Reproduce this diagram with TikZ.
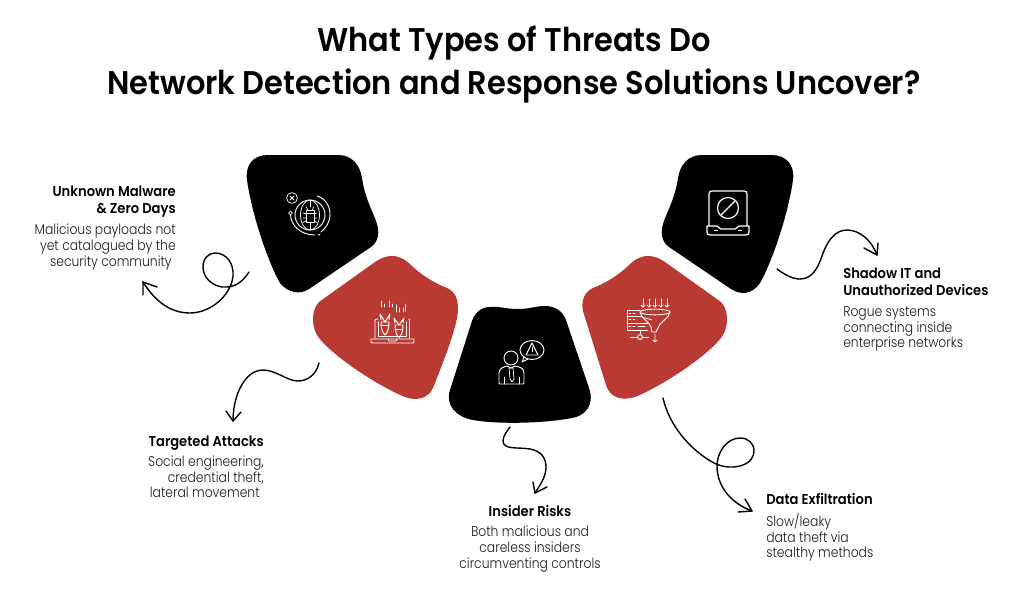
\documentclass[tikz,border=0pt]{standalone}
\usepackage{fontspec}
\setmainfont{Poppins}
\newfontfamily\titlefont[FakeStretch=0.928,BoldFont={Poppins SemiBold}]{Poppins}
\newfontfamily\headfont[FakeStretch=0.92]{Poppins SemiBold}
\newfontfamily\bodyfont[FakeStretch=0.875]{Poppins Light}
\definecolor{brickred}{HTML}{B93A32}
\definecolor{inktext}{HTML}{1A1A1A}
\tikzset{
  blobblack/.style={fill=black,draw=none},
  blobred/.style={fill=brickred,draw=none},
  icon/.style={draw=white,line width=0.7pt,line cap=round,line join=round,fill=none},
  iconthin/.style={draw=white,line width=0.55pt,line cap=round,line join=round,fill=none},
  iconbold/.style={draw=white,line width=0.9pt,line join=round,fill=none},
  squiggle/.style={draw=black,line width=1.05pt,line cap=round,line join=round,fill=none},
  titletext/.style={inner sep=0pt,font=\titlefont\bfseries\fontsize{24.6pt}{32pt}\selectfont,align=center,text=black},
  headtext/.style={inner sep=0pt,font=\headfont\fontsize{10.7pt}{12.4pt}\selectfont,text=black},
  bodytext/.style={inner sep=0pt,font=\bodyfont\fontsize{10.6pt}{11.75pt}\selectfont,text=inktext},
}
\begin{document}
\begin{tikzpicture}[x=0.75pt,y=-0.75pt]
\useasboundingbox (0,0) rectangle (1024,601);
\fill[white] (0,0) rectangle (1024,601);

% title
\node[titletext,anchor=center] (title) at (514,64.5) {What Types of Threats Do\\Network Detection and Response Solutions Uncover?};

% blobs
\path[blobblack] (268,155) -- (338,155) .. controls (352,155) and (360,165) .. (362,178)
  .. controls (365,198) and (372,210) .. (376,221) .. controls (380,232) and (379,241) .. (371,247)
  -- (309,289) .. controls (300,295) and (288,293) .. (280,283)
  .. controls (268,262) and (252,215) .. (247,180) .. controls (245,165) and (253,155) .. (268,155) -- cycle;
\path[blobred] (392,256) .. controls (400,256) and (406,260) .. (412,266)
  .. controls (425,278) and (437,284) .. (447,288) .. controls (456,292) and (458,300) .. (458,309)
  .. controls (458,325) and (444,360) .. (433,388) .. controls (428,399) and (416,401) .. (405,397)
  .. controls (380,387) and (335,358) .. (319,338) .. controls (311,328) and (311,310) .. (319,302)
  -- (375,262) .. controls (381,258) and (386,256) .. (392,256) -- cycle;
\path[blobblack] (490,307) .. controls (500,306) and (505,309) .. (518,309)
  .. controls (530,309) and (535,306) .. (545,306) .. controls (556,306) and (563,312) .. (566,320)
  -- (589,388) .. controls (595,405) and (585,416) .. (572,418)
  .. controls (540,424) and (495,424) .. (473,420) .. controls (456,417) and (445,405) .. (450,390)
  -- (472,321) .. controls (475,312) and (482,307) .. (490,307) -- cycle;
\path[blobred] (648,256) .. controls (640,256) and (634,260) .. (628,266)
  .. controls (615,278) and (603,284) .. (593,288) .. controls (584,292) and (581,301) .. (583,311)
  -- (606,385) .. controls (610,398) and (622,401) .. (635,397)
  .. controls (660,387) and (705,358) .. (721,338) .. controls (729,328) and (729,310) .. (721,302)
  -- (665,262) .. controls (659,258) and (654,256) .. (648,256) -- cycle;
\path[blobblack] (702,155) -- (772,155) .. controls (786,155) and (795,165) .. (793,180)
  .. controls (788,215) and (772,262) .. (760,283) .. controls (752,295) and (740,295) .. (731,289)
  -- (669,247) .. controls (661,241) and (660,232) .. (664,221)
  .. controls (668,210) and (675,198) .. (678,178) .. controls (680,165) and (688,155) .. (702,155) -- cycle;

% icon 1: bug globe
\begin{scope}[shift={(310,215)}]
  \draw[iconthin] (-18,-17) circle (5.4);
  \draw[iconthin] (-20,-19) -- (-16,-15) (-16,-19) -- (-20,-15);
  \draw[iconthin] (-19.5,-2) circle (1.8);
  \draw[icon] (0,0) circle (15);
  \draw[iconthin] (0,0) ellipse (9.5 and 15);
  \draw[icon] (0,-15) -- (0,-8) (0,8) -- (0,15);
  \draw[icon] (7,-19) .. controls (15,-17) and (20,-9) .. (20,-1) .. controls (20,7) and (16,13) .. (11,17);
  \draw[icon] (-19.5,0) .. controls (-19,10) and (-10,20) .. (5,20);
  \draw[icon] (8,20) -- (10,19.5);
  \draw[icon] (-4,-5) rectangle (4,7);
  \draw[iconthin] (-4,-1) -- (-7,-2) (-4,3) -- (-7,3) (-4,6) -- (-7,7.5) (4,-1) -- (7,-2) (4,3) -- (7,3) (4,6) -- (7,7.5);
  \draw[iconthin] (-2.5,-5) -- (-3.5,-8) (2.5,-5) -- (3.5,-8) (-4,-1.5) -- (4,-1.5);
\end{scope}

% icon 2: laptop under attack
\begin{scope}[shift={(392,328)}]
  \draw[icon] (-14,-9) -- (-15,-9) .. controls (-17,-9) and (-17,-8) .. (-17,-7) -- (-17,10.5);
  \draw[icon] (17,-9) .. controls (17,-9) and (17.5,-8) .. (17.5,-7) -- (17.5,10.5);
  \draw[iconthin] (-13.5,-6) -- (-13.5,8) -- (14,8) -- (14,-6);
  \draw[icon] (-21,11) -- (22,11) -- (22,13.5) .. controls (22,15) and (21,15) .. (20,15) -- (-19,15) .. controls (-21,15) and (-21,14) .. (-21,13.5) -- cycle;
  \draw[iconthin] (-4,11) -- (-3,13) -- (4,13) -- (5,11);
  \draw[icon] (-11,-6) .. controls (-11,2) and (-9,5) .. (-7,7) .. controls (-5,5) and (-3,2) .. (-3,-6) -- cycle;
  \draw[icon] (-11,-3) -- (-3,-3);
  \draw[icon] (-12,-14) -- (-7,-6) -- (-2,-14) (-12,-14) -- (-11,-8) (-2,-14) -- (-3,-8);
  \draw[icon] (3,-3) .. controls (3,4) and (5,8) .. (7,9.5) .. controls (9,8) and (11,4) .. (11,-3) -- cycle;
  \draw[icon] (3,1) -- (11,1);
  \draw[icon] (2,-10) -- (7,-3) -- (12,-10) (2,-10) -- (3,-5) (12,-10) -- (11,-5);
  \draw[iconthin] (-11,-27) -- (-11,-21) (-8,-24) -- (-8,-21) (-3,-27) -- (-3,-21) (0,-24) -- (0,-21);
  \draw[iconthin] (4,-23) -- (4,-16) (7,-20) -- (7,-16) (11,-20) -- (11,-16) (13,-24) -- (13,-17);
\end{scope}

% icon 3: person with alert
\begin{scope}[shift={(512,370)}]
  \draw[icon] (-1,-12) circle (7);
  \draw[icon] (-12,14) .. controls (-13,14) and (-13,13) .. (-13,12) -- (-13,3) .. controls (-13,-2) and (-8,-3) .. (-5,-4) -- (-1,-2) -- (3,-4) .. controls (8,-3) and (12,-2) .. (12,3) -- (12,12) .. controls (12,13) and (12,14) .. (11,14) -- cycle;
  \draw[iconthin] (-3,-2) -- (1,-2) -- (2,9) -- (0,12) -- (-2,9) -- cycle;
  \draw[iconthin] (-8,14) -- (-8,7) (7,14) -- (7,7);
  \draw[icon] (20,-20) ellipse (12 and 9.5);
  \draw[icon] (12,-13) -- (10,-8) -- (16,-11);
  \draw[icon] (14,-15) -- (20,-27) -- (26,-15) -- cycle;
  \draw[iconthin] (20,-23) -- (20,-18);
\end{scope}

% icon 4: funnel and servers
\begin{scope}[shift={(655,325)}]
  \foreach \ax in {-12,-6,0,6,12} {
    \draw[iconthin] (\ax,-26) -- (\ax,-18);
    \draw[iconthin] (\ax-2,-20) -- (\ax,-18) -- (\ax+2,-20);
  }
  \draw[icon] (0,-13) ellipse (15 and 2.8);
  \draw[icon] (-15,-13) .. controls (-14,-6) and (-5,-3) .. (-4,2) -- (-3,7) -- (1,7) -- (3,3) .. controls (4,-3) and (14,-6) .. (15,-13);
  \draw[iconthin] (-13,-8) -- (-3,-5);
  \draw[icon] (-15,-15) -- (-28,-15) -- (-28,5) -- (-7,5);
  \draw[icon] (-28,-9) -- (-13,-9) (-28,-2) -- (-7,-2);
  \draw[iconthin] (-26,-12) -- (-24,-12) (-22,-12) -- (-20,-12) (-26,-5.5) -- (-24,-5.5) (-22,-5.5) -- (-20,-5.5) (-26,1.5) -- (-24,1.5) (-22,1.5) -- (-20,1.5) (-17,1.5) -- (-10,1.5);
  \draw[icon] (-15,5) -- (-15,9) (-25,12) -- (-18,12) (-12,12) -- (-6,12);
  \draw[icon] (-15,12) circle (2.4);
  \draw[iconthin] (0,9) -- (0,17) (-2,15) -- (0,17) -- (2,15);
\end{scope}

% icon 5: device with block sign
\begin{scope}[shift={(728,211)}]
  \draw[iconbold] (-19,15) -- (-19,-17) .. controls (-19,-19) and (-18,-20) .. (-16,-20) -- (16,-20) .. controls (18,-20) and (19,-19) .. (19,-17) -- (19,15);
  \draw[iconbold] (0,-3) circle (10.5);
  \draw[iconbold] (-7,4) -- (7,-10);
  \draw[iconbold] (-21,15) -- (-21,21) .. controls (-21,23) and (-20,24) .. (-18,24) -- (18,24) .. controls (20,24) and (21,23) .. (21,21) -- (21,15) -- (11,15) -- (7,18) -- (-7,18) -- (-11,15) -- cycle;
  \draw[iconbold] (-14,19.5) -- (-10,19.5) (10,19.5) -- (14,19.5);
\end{scope}

% connector end points
\coordinate (malS) at (249,272);
\coordinate (malE) at (143,282);
\coordinate (tarS) at (319,363);
\coordinate (tarE) at (233,421);
\coordinate (insS) at (510,427);
\coordinate (insE) at (535,493);
\coordinate (datS) at (663,398);
\coordinate (datE) at (752,511);
\coordinate (shaS) at (777,269);
\coordinate (shaE) at (877,255);

% connectors
\draw[squiggle] (malS) .. controls (243,281) and (236,288) .. (222,287)
  .. controls (210,285) and (203,276) .. (203,267) .. controls (203,258) and (209,253) .. (215,253)
  .. controls (227,253) and (234,264) .. (233,276) .. controls (231,296) and (210,313) .. (190,313)
  .. controls (172,313) and (156,303) .. (malE);
\draw[squiggle] (143,295) -- (malE) -- (157,287);
\draw[squiggle] (tarS) .. controls (316,376) and (306,381) .. (298,381)
  .. controls (287,381) and (276,370) .. (263,370) .. controls (245,370) and (233,395) .. (tarE);
\draw[squiggle] (226,411) -- (tarE) -- (241,412);
\draw[squiggle] (insS) .. controls (507,431) and (503,436) .. (503,441)
  .. controls (503,450) and (518,447) .. (530,449) .. controls (542,451) and (546,459) .. (546,467)
  .. controls (546,477) and (540,485) .. (insE);
\draw[squiggle] (533,482) -- (insE) -- (547,487);
\draw[squiggle] (datS) .. controls (669,425) and (690,450) .. (714,463)
  .. controls (724,468) and (735,468) .. (743,465) .. controls (751,462) and (754,456) .. (754,451)
  .. controls (754,443) and (748,438) .. (740,438) .. controls (727,438) and (717,452) .. (717,466)
  .. controls (717,488) and (733,504) .. (datE);
\draw[squiggle] (745,499) -- (datE) -- (738,512);
\draw[squiggle] (shaS) .. controls (785,275) and (793,279) .. (800,279)
  .. controls (812,279) and (818,268) .. (822,256) .. controls (827,241) and (835,230) .. (847,230)
  .. controls (860,230) and (872,241) .. (shaE);
\draw[squiggle] (878,243) -- (shaE) -- (864,248);

% labels
\node[headtext,anchor=north east,align=right] (malH) at (176,186) {Unknown Malware\\\& Zero Days};
\node[bodytext,anchor=north east,align=right] (malB) at (176,224) {Malicious payloads not\\yet catalogued by the\\security community\hspace*{3pt}};
\node[headtext,anchor=north east,align=right] (tarH) at (264,436) {Targeted Attacks};
\node[bodytext,anchor=north east,align=right] (tarB) at (264,455.5) {Social engineering,\\credential theft,\\lateral movement\hspace*{3pt}};
\node[headtext,anchor=north,align=center] (insH) at (530,505) {Insider Risks};
\node[bodytext,anchor=north,align=center] (insB) at (530,526) {Both malicious and\\careless insiders\\circumventing controls};
\node[headtext,anchor=north west,align=left] (datH) at (766,493) {Data Exfiltration};
\node[bodytext,anchor=north west,align=left] (datB) at (766,513) {Slow/leaky\\data theft via\\stealthy methods};
\node[headtext,anchor=north west,align=left] (shaH) at (843,268) {Shadow IT and\\Unauthorized Devices};
\node[bodytext,anchor=north west,align=left] (shaB) at (843,306.5) {Rogue systems\\connecting inside\\enterprise networks};
\end{tikzpicture}
\end{document}
